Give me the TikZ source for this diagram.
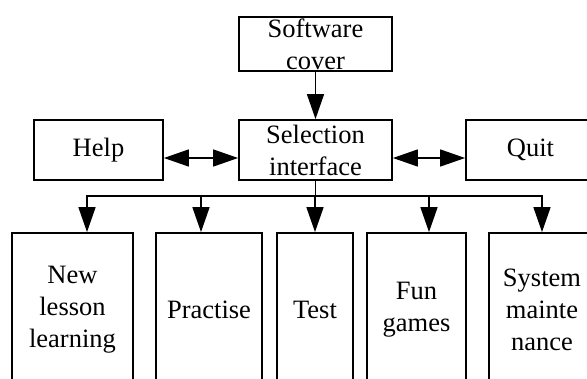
\documentclass[tikz,border=0pt]{standalone}
\usepackage{fontspec}
\setmainfont{Liberation Serif}
\usetikzlibrary{arrows.meta}
\begin{document}
\begin{tikzpicture}[x=1pt,y=-1pt,
  box/.style={draw, line width=1.8pt, inner sep=0pt, align=center, font=\fontsize{26.5}{32}\selectfont},
  conn/.style={line width=1.5pt},
  tip/.tip={Triangle[length=25pt,width=17pt]},
  arr/.style={conn, -tip},
  biarr/.style={conn, tip-tip}]
\useasboundingbox (0,0) rectangle (587,378);
\fill[white] (0,0) rectangle (587,378);
\clip (0,0) rectangle (587,378);
\node[box, minimum width=153pt, minimum height=54pt] (cover) at (315.5,44) {Software\\cover};
\node[box, minimum width=153pt, minimum height=60pt] (sel) at (315.5,150) {Selection\\interface};
\node[box, minimum width=129pt, minimum height=60pt] (help) at (98.5,150) {Help};
\node[box, minimum width=129pt, minimum height=60pt] (quit) at (530.5,150) {Quit};
\node[box, minimum width=121pt, minimum height=154pt] (n1) at (72.5,310) {New\\lesson\\learning};
\node[box, minimum width=106pt, minimum height=154pt] (n2) at (209,310) {Practise};
\node[box, minimum width=76pt, minimum height=154pt] (n3) at (315,310) {Test};
\node[box, minimum width=99pt, minimum height=154pt] (n4) at (416.5,310) {Fun\\games};
\node[box, minimum width=106pt, minimum height=154pt] (n5) at (542,310) {System\\mainte\\nance};
\coordinate (bus) at (315.5,196);
\draw[arr] (cover) -- (sel);
\draw[biarr] ([yshift=-8pt]help.east) -- ([yshift=-8pt]sel.west);
\draw[biarr] ([yshift=-8pt]sel.east) -- ([yshift=-8pt]quit.west);
\draw[conn] (sel.south) -- (bus);
\draw[arr] (bus) -| ([xshift=14.5pt]n1.north);
\draw[arr] (bus) -| ([xshift=-8pt]n2.north);
\draw[arr] (bus) -| (n3.north);
\draw[arr] (bus) -| ([xshift=12.5pt]n4.north);
\draw[arr] (bus) -| (n5.north);
\end{tikzpicture}
\end{document}
